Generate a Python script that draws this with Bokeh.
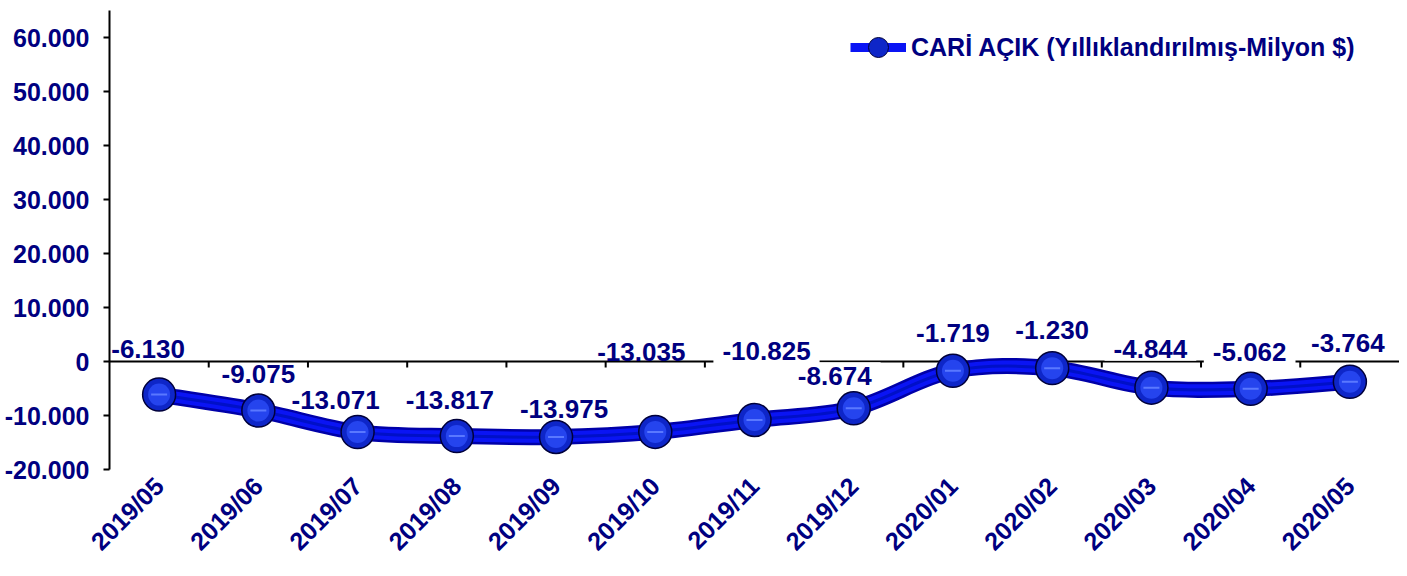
import math
import numpy as np
from bokeh.plotting import figure
from bokeh.models import Range1d, FixedTicker, Legend, LegendItem, ColumnDataSource
from bokeh.core.properties import value
from bokeh.embed import file_html
from bokeh.resources import INLINE

# ---------------- data ----------------
categories = ["2019/05", "2019/06", "2019/07", "2019/08", "2019/09", "2019/10", "2019/11",
              "2019/12", "2020/01", "2020/02", "2020/03", "2020/04", "2020/05"]
cari_acik = [-6130, -9075, -13071, -13817, -13975, -13035, -10825, -8674,
             -1719, -1230, -4844, -5062, -3764]
y_ticks = [-20000, -10000, 0, 10000, 20000, 30000, 40000, 50000, 60000]
series_name = "CARİ AÇIK (Yıllıklandırılmış-Milyon $)"

# label nudges in screen pixels and box visibility (layout only)
label_dx = [-11, 0, -22, -7, 8, -14, 12, -19, 0, 0, -1, -1, -2]
label_up = [47, 38, 33, 37, 29, 81, 70, 33, 39, 39, 40, 38, 40]
label_boxed = [False, False, True, True, True, False, True, True, True, True, True, True, True]

NAVY = "#000080"
FONT = "Liberation Sans"

def fmt(v):
    return f"{v:,}".replace(",", ".")

W, H = 1399, 568
TOP, BOTTOM, LEFT, RIGHT = 10, 98, 109, 0
Y0, Y1 = -20000, 65000
frame_h = H - TOP - BOTTOM

p = figure(width=W, height=H, output_backend="svg", toolbar_location=None,
           x_range=Range1d(-0.5, len(categories) - 0.5), y_range=Range1d(Y0, Y1),
           min_border_top=TOP, min_border_bottom=BOTTOM, min_border_left=LEFT,
           min_border_right=RIGHT)
p.outline_line_color = None
p.grid.visible = False
p.background_fill_color = "white"
p.border_fill_color = "white"

# y axis
ya = p.yaxis[0]
ya.ticker = FixedTicker(ticks=y_ticks)
ya.major_label_overrides = {t: fmt(t) for t in y_ticks}
ya.axis_line_color = "black"
ya.axis_line_width = 2
ya.major_tick_line_color = "black"
ya.major_tick_line_width = 2
ya.major_tick_out = 6
ya.major_tick_in = 0
ya.minor_tick_line_color = None
ya.major_label_text_font = FONT
ya.major_label_text_font_style = "bold"
ya.major_label_text_font_size = "25px"
ya.major_label_text_color = NAVY
ya.major_label_standoff = 14

# x axis (labels only)
xa = p.xaxis[0]
xs_idx = list(range(len(categories)))
xa.ticker = FixedTicker(ticks=xs_idx)
xa.major_label_overrides = {i: c for i, c in enumerate(categories)}
xa.axis_line_color = None
xa.major_tick_line_color = None
xa.minor_tick_line_color = None
xa.major_tick_out = 0
xa.major_tick_in = 0
xa.major_label_orientation = math.pi / 4
xa.major_label_text_font = FONT
xa.major_label_text_font_style = "bold"
xa.major_label_text_font_size = "25px"
xa.major_label_text_color = NAVY
xa.major_label_standoff = 12

# zero line with boundary ticks
px_per_unit = frame_h / (Y1 - Y0)
tick_len = 6 / px_per_unit
p.segment(x0=[-0.5], y0=[0], x1=[len(categories) - 0.5], y1=[0], line_color="black", line_width=2)
bounds = [i + 0.5 for i in range(len(categories) - 1)]
p.segment(x0=bounds, y0=[0] * len(bounds), x1=bounds, y1=[-tick_len] * len(bounds),
          line_color="black", line_width=2)

# data labels with white boxes
lab_src = ColumnDataSource(dict(
    x=xs_idx, y=cari_acik, text=[fmt(v) for v in cari_acik],
    dx=label_dx, dy=[-d for d in label_up],
    bg=["white" if b else "rgba(255,255,255,0)" for b in label_boxed]))
p.text(x="x", y="y", text="text", source=lab_src, x_offset="dx", y_offset="dy",
       text_align="center", text_baseline="middle", text_font=value(FONT),
       text_font_style="bold", text_font_size="26px", text_color=NAVY,
       background_fill_color="bg",
       padding=dict(left=9, right=9, top=5, bottom=3))

# smooth curve via Catmull-Rom bezier segments
xv = np.array(xs_idx, dtype=float)
yv = np.array(cari_acik, dtype=float)
n = len(xv)
x0s, y0s, x1s, y1s, cx0, cy0, cx1, cy1 = [], [], [], [], [], [], [], []
for i in range(n - 1):
    a = max(i - 1, 0)
    b = min(i + 2, n - 1)
    x0s.append(xv[i]); y0s.append(yv[i]); x1s.append(xv[i + 1]); y1s.append(yv[i + 1])
    cx0.append(xv[i] + (xv[i + 1] - xv[a]) / 6); cy0.append(yv[i] + (yv[i + 1] - yv[a]) / 6)
    cx1.append(xv[i + 1] - (xv[b] - xv[i]) / 6); cy1.append(yv[i + 1] - (yv[b] - yv[i]) / 6)
bz = dict(x0=x0s, y0=y0s, x1=x1s, y1=y1s, cx0=cx0, cy0=cy0, cx1=cx1, cy1=cy1)
p.bezier(**bz, line_color="#0000A8", line_width=16, line_cap="round")
p.bezier(**bz, line_color="#0A14F4", line_width=11, line_cap="round")
p.bezier(**bz, line_color="#0010C8", line_width=3, line_cap="round")

# markers
p.scatter(x=xs_idx, y=cari_acik, size=33, fill_color="#0E26C8", line_color="#00003A", line_width=1.5)
p.scatter(x=xs_idx, y=cari_acik, size=22, fill_color="#2544EE", line_color=None)
p.scatter(x=xs_idx, y=cari_acik, size=16, marker="dash", line_color="#5A78FF", line_width=2)

# legend proxies
leg_line = p.line(x=[np.nan], y=[np.nan], line_color="#0A14F4", line_width=9)
leg_dot = p.scatter(x=[np.nan], y=[np.nan], size=20, fill_color="#0E26C8",
                    line_color="#00003A", line_width=1)
legend = Legend(items=[LegendItem(label=series_name, renderers=[leg_line, leg_dot])],
                location=(741, frame_h - 13 - 50))
legend.glyph_width = 56
legend.glyph_height = 50
legend.label_standoff = 5
legend.padding = 0
legend.margin = 0
legend.spacing = 0
legend.border_line_color = None
legend.background_fill_alpha = 0
legend.label_text_font = FONT
legend.label_text_font_style = "bold"
legend.label_text_font_size = "25px"
legend.label_text_color = NAVY
p.add_layout(legend)

open("out.html", "w").write(file_html(p, INLINE))
